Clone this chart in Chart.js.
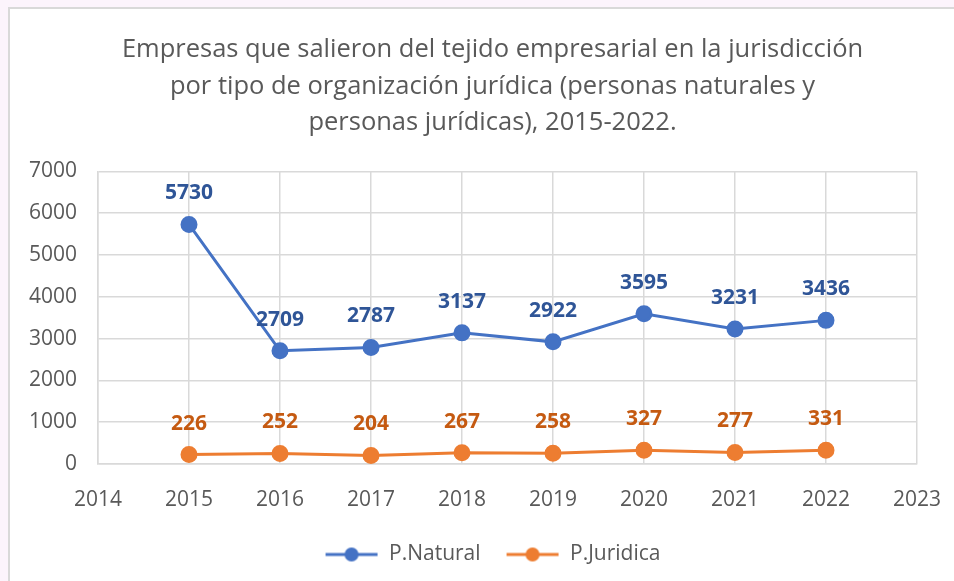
<!DOCTYPE html>
<html>
<head>
<meta charset="utf-8">
<script src="https://cdn.jsdelivr.net/npm/chart.js@4"></script>
<style>
body{margin:0;background:#fcf4fc;width:954px;height:581px;overflow:hidden;font-family:"Open Sans",sans-serif;}
#frame{position:absolute;left:8px;top:7px;width:944px;height:572px;background:#fff;border-left:2px solid #d9d9d9;border-top:2px solid #d9d9d9;}
</style>
</head>
<body>
<div id="frame"><canvas id="lineChart" width="944" height="572"></canvas></div>
<script>
// datos
const years = [2015, 2016, 2017, 2018, 2019, 2020, 2021, 2022];
const natural = [5730, 2709, 2787, 3137, 2922, 3595, 3231, 3436];
const juridica = [226, 252, 204, 267, 258, 327, 277, 331];
const seriesNames = ['P.Natural', 'P.Juridica'];
const titleLines = [
'Empresas que salieron del tejido empresarial en la jurisdicción',
'por tipo de organización jurídica (personas naturales y',
'personas jurídicas), 2015-2022.'
];

const blue = '#4472c4';
const orange = '#ed7d31';
const gray = '#595959';

// icono de leyenda: linea con punto
function legendIcon(color){
let c = document.createElement('canvas');
c.width = 54; c.height = 16;
let g = c.getContext('2d');
g.strokeStyle = color;
g.lineWidth = 3;
g.beginPath();
g.moveTo(1, 8); g.lineTo(53, 8);
g.stroke();
g.fillStyle = color;
g.beginPath();
g.arc(27, 8, 7, 0, Math.PI*2);
g.fill();
return c;
}

// etiquetas de valores encima de los puntos
const valueLabels = {
id: 'valueLabels',
afterLayout(chart){
// que las etiquetas del eje y no se recorten
chart.scales.y.left = 0;
},
afterDatasetsDraw(chart){
let ctx = chart.ctx;
ctx.save();
ctx.font = 'bold 21px "Open Sans"';
ctx.textAlign = 'center';
ctx.textBaseline = 'middle';
chart.data.datasets.forEach((ds, i) => {
let meta = chart.getDatasetMeta(i);
ctx.fillStyle = ds.labelColor;
meta.data.forEach((pt, j) => {
ctx.fillText(ds.data[j].y, pt.x, pt.y - 31);
});
});
ctx.restore();
}
};

const ctx = document.getElementById('lineChart');

new Chart(ctx, {
type: 'line',
data: {
datasets: [{
label: seriesNames[0],
data: years.map((y, i) => ({x: y, y: natural[i]})),
borderColor: blue,
backgroundColor: blue,
borderWidth: 3,
pointRadius: 7,
pointHoverRadius: 7,
labelColor: '#2f5597'
},{
label: seriesNames[1],
data: years.map((y, i) => ({x: y, y: juridica[i]})),
borderColor: orange,
backgroundColor: orange,
borderWidth: 3,
pointRadius: 7,
pointHoverRadius: 7,
labelColor: '#c55a11'
}]
},
options: {
responsive: false,
animation: false,
datasets: { line: { tension: 0 } },
layout: { padding: { left: 58, right: 37, top: 0, bottom: 6 } },
plugins: {
title: {
display: true,
text: titleLines,
color: gray,
font: { family: '"Open Sans"', size: 25.5, weight: 'normal', lineHeight: 1.43 },
padding: { top: 23, bottom: 30 }
},
legend: {
position: 'bottom',
labels: {
usePointStyle: true,
pointStyleWidth: 54,
color: gray,
font: { family: '"Open Sans"', size: 21 },
padding: 25,
generateLabels(chart){
return chart.data.datasets.map((ds, i) => ({
text: ds.label,
pointStyle: legendIcon(ds.borderColor),
fillStyle: ds.borderColor,
strokeStyle: ds.borderColor,
lineWidth: 0,
fontColor: gray,
datasetIndex: i
}));
}
}
},
tooltip: { enabled: false }
},
scales: {
x: {
type: 'linear',
min: 2014,
max: 2023,
ticks: {
stepSize: 1,
color: gray,
padding: 23,
font: { family: '"Open Sans"', size: 21 },
callback: v => String(v)
},
grid: { color: '#d9d9d9', lineWidth: 1.5, drawTicks: false },
border: { color: '#d9d9d9', width: 1.5 },
afterFit(scale){
scale.height = 55;
scale.paddingLeft = 0;
scale.paddingRight = 0;
}
},
y: {
min: 0,
max: 7000,
ticks: {
stepSize: 1000,
color: gray,
padding: 21,
font: { family: '"Open Sans"', size: 21 },
callback: v => String(v)
},
grid: { color: '#d9d9d9', lineWidth: 1.5, drawTicks: false },
border: { color: '#d9d9d9', width: 1.5 },
afterFit(scale){ scale.width = 30; }
}
}
},
plugins: [valueLabels]
});
</script>
</body>
</html>
